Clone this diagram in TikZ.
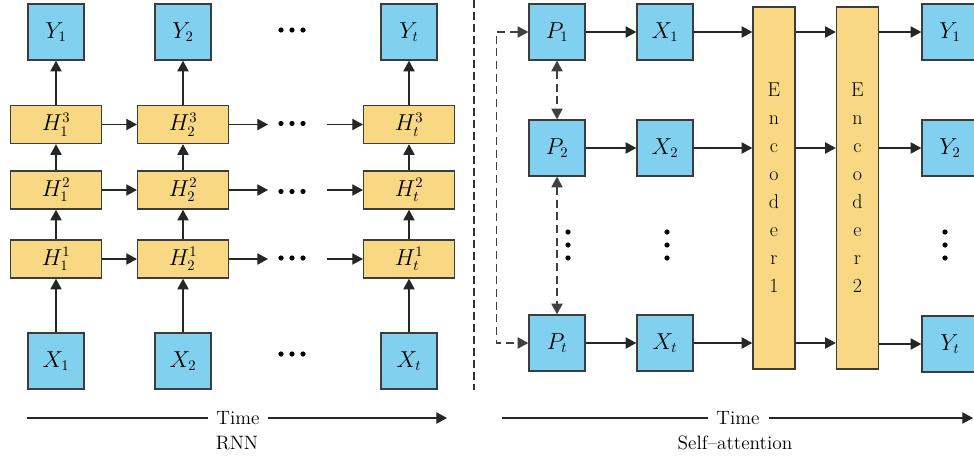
\documentclass[tikz,border=0pt]{standalone}
\usepackage{amsmath}
\usepackage{amssymb}
\usepackage{tikz}
\usetikzlibrary{arrows.meta}

\definecolor{boxblue}{RGB}{130,208,240}
\definecolor{boxyellow}{RGB}{248,216,130}
\definecolor{boxline}{RGB}{60,60,60}

\tikzset{
  io/.style={draw=boxline, fill=boxblue, line width=1.1pt, minimum width=42pt, minimum height=42pt, inner sep=0pt, font=\fontsize{16}{18}\selectfont},
  hid/.style={draw=boxline, fill=boxyellow, line width=1.1pt, minimum width=68pt, minimum height=28.5pt, inner sep=0pt, font=\fontsize{16}{18}\selectfont},
  enc/.style={draw=boxline, fill=boxyellow, line width=1.1pt, minimum width=31.5pt, minimum height=271.5pt, inner sep=0pt, align=center, font=\fontsize{15}{21}\selectfont},
  arr/.style={-{Triangle[length=8pt,width=8.5pt]}, line width=0.9pt, draw=black!85},
  darr/.style={{Triangle[length=8pt,width=8.5pt]}-{Triangle[length=8pt,width=8.5pt]}, line width=0.9pt, draw=black!75, dash pattern=on 6pt off 3.5pt},
  axislabel/.style={inner xsep=6.5pt},
}

% three dots: x, y, step in x, step in y
\newcommand{\tridots}[4]{\foreach \k in {-1,0,1} {\fill ({#1+\k*#3},{#2+\k*#4}) circle (2.6);}}

\begin{document}
\begin{tikzpicture}[x=0.75pt,y=0.75pt,yscale=-1,xscale=1, every node/.style={font=\fontsize{14.5}{16}\selectfont}]
\useasboundingbox (0,0) rectangle (974,457);

%RNN outputs
\node[io] (Y1) at (56,32) {$Y_1$};
\node[io] (Y2) at (183,32) {$Y_2$};
\node[io] (Yt) at (409,32) {$Y_t$};
%hidden layers
\node[hid] (H13) at (56,124.5) {$H_1^3$};
\node[hid] (H23) at (183,124.5) {$H_2^3$};
\node[hid] (Ht3) at (409,124.5) {$H_t^3$};
\node[hid] (H12) at (56,190) {$H_1^2$};
\node[hid] (H22) at (183,190) {$H_2^2$};
\node[hid] (Ht2) at (409,190) {$H_t^2$};
\node[hid] (H11) at (56,259) {$H_1^1$};
\node[hid] (H21) at (183,259) {$H_2^1$};
\node[hid] (Ht1) at (409,259) {$H_t^1$};
%RNN inputs
\node[io] (X1) at (56,361) {$X_1$};
\node[io] (X2) at (183,361) {$X_2$};
\node[io] (Xt) at (409,361) {$X_t$};

%ends of the arrows round the gaps
\coordinate (a3) at (268,124.5);
\coordinate (b3) at (327,124.5);
\coordinate (a2) at (268,190);
\coordinate (b2) at (327,190);
\coordinate (a1) at (268,259);
\coordinate (b1) at (327,259);

\foreach \c in {1,2,t} {
  \draw[arr] (X\c) -- (H\c1);
  \draw[arr] (H\c1) -- (H\c2);
  \draw[arr] (H\c2) -- (H\c3);
  \draw[arr] (H\c3) -- (Y\c);
}
\foreach \r in {1,2,3} {
  \draw[arr] (H1\r) -- (H2\r);
  \draw[arr] (H2\r) -- (a\r);
  \draw[arr] (b\r) -- (Ht\r);
}

\tridots{292}{30}{11}{0}
\tridots{292}{123.5}{11}{0}
\tridots{292}{191.5}{11}{0}
\tridots{292}{258}{11}{0}
\tridots{292}{354}{11}{0}

%separator
\draw[draw=black!80, line width=0.8pt, dash pattern=on 6pt off 3pt] (474,0) -- (474,390);

%Self-attention
\node[io] (P1) at (557,32) {$P_1$};
\node[io] (P2) at (557,148) {$P_2$};
\node[io] (Pt) at (557,343) {$P_t$};
\node[io] (sX1) at (665,32) {$X_1$};
\node[io] (sX2) at (665,148) {$X_2$};
\node[io] (sXt) at (665,343) {$X_t$};
\node[enc] (E1) at (774,188) {E\\n\\c\\o\\d\\e\\r\\1};
\node[enc] (E2) at (857.5,188) {E\\n\\c\\o\\d\\e\\r\\2};
\node[io] (sY1) at (950,32) {$Y_1$};
\node[io] (sY2) at (950,148) {$Y_2$};
\node[io] (sYt) at (950,344) {$Y_t$};

\foreach \c in {1,2,t} {
  \draw[arr] (P\c) -- (sX\c);
  \draw[arr] (sX\c) -- (sX\c -| E1.west);
  \draw[arr] (E1.east |- sX\c) -- (E2.west |- sX\c);
  \draw[arr] (E2.east |- sY\c) -- (sY\c);
}

%position links
\draw[darr] (P1.west) -- ++(-32,0) |- (Pt.west);
\draw[darr] (P1) -- (P2);
\draw[darr] (P2) -- (Pt);

\tridots{568}{245}{0}{13}
\tridots{667}{245}{0}{13}
\tridots{945}{245}{0}{13}

%time axes
\node[axislabel] (t1) at (238,418) {Time};
\node (rnn) at (237,443) {RNN};
\coordinate (t1a) at (27,418);
\coordinate (t1b) at (447,418);
\draw[line width=0.9pt, draw=black!85] (t1a) -- (t1);
\draw[arr] (t1) -- (t1b);

\node[axislabel] (t2) at (738,418) {Time};
\node (sa) at (735,443) {Self--attention};
\coordinate (t2a) at (502,418);
\coordinate (t2b) at (973,418);
\draw[line width=0.9pt, draw=black!85] (t2a) -- (t2);
\draw[arr] (t2) -- (t2b);

\end{tikzpicture}
\end{document}
